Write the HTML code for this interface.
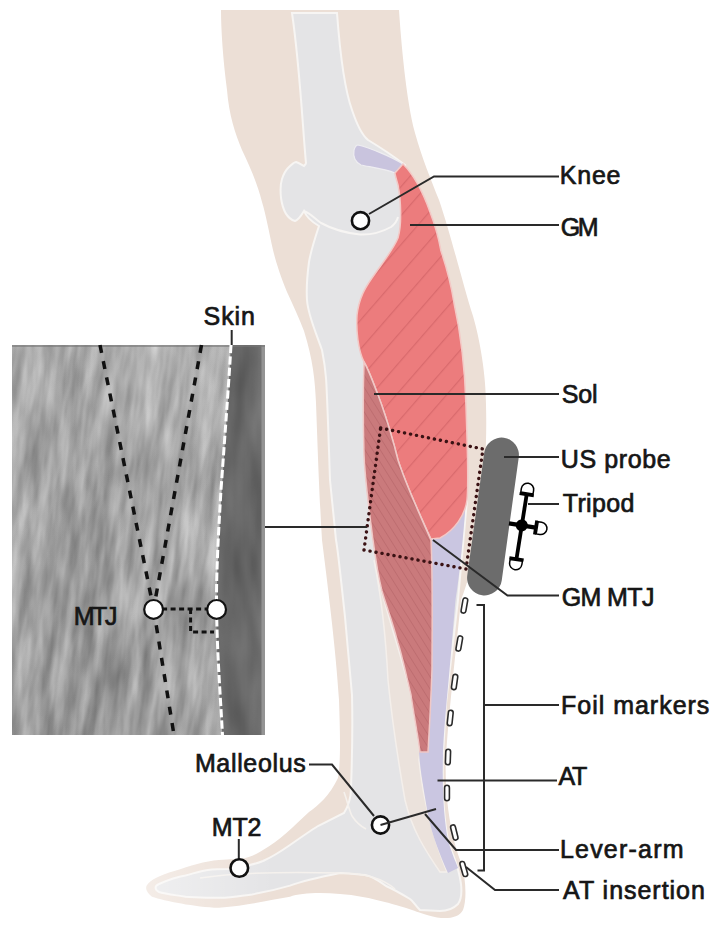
<!DOCTYPE html>
<html><head><meta charset="utf-8">
<style>
html,body{margin:0;padding:0;background:#fff;}
svg{display:block;}
text{font-family:"Liberation Sans",sans-serif;font-size:25px;fill:#161616;stroke:#161616;stroke-width:0.7px;}
</style></head>
<body>
<svg width="720" height="931" viewBox="0 0 720 931">
<defs>
  <pattern id="gmst" patternUnits="userSpaceOnUse" y="6.5" width="40" height="19" patternTransform="rotate(-49)">
    <rect width="40" height="19" fill="#ec7c7d"/>
    <line x1="0" y1="0.6" x2="40" y2="0.6" stroke="#d96a6d" stroke-width="1.1"/>
  </pattern>
  <pattern id="solst" patternUnits="userSpaceOnUse" width="40" height="6.5" patternTransform="rotate(58)">
    <rect width="40" height="6.5" fill="#ca7a7c"/>
    <line x1="0" y1="0.5" x2="40" y2="0.5" stroke="#bd6d70" stroke-width="1"/>
  </pattern>
  <filter id="usnoise2" x="0" y="0" width="100%" height="100%" color-interpolation-filters="sRGB">
    <feTurbulence type="fractalNoise" baseFrequency="0.06 0.015" numOctaves="2" seed="3"/>
    <feColorMatrix type="matrix" values="0.35 0 0 0 0.23  0.35 0 0 0 0.23  0.35 0 0 0 0.23  0 0 0 0 1"/>
  </filter>
  <clipPath id="bandclip"><path d="M231,345 L262,345 L262,735 L222.5,735 C219,690 216,640 216.6,609 C217,560 221,500 228,400 Z"/></clipPath>
  <filter id="usnoise" x="0" y="0" width="100%" height="100%" color-interpolation-filters="sRGB">
    <feTurbulence type="fractalNoise" baseFrequency="0.085 0.014" numOctaves="3" seed="11"/>
    <feColorMatrix type="matrix" values="0.42 0 0 0 0.44  0.42 0 0 0 0.44  0.42 0 0 0 0.44  0 0 0 0 1"/>
  </filter>
  <clipPath id="usclip"><rect x="12" y="345" width="253" height="390"/></clipPath>
  <linearGradient id="ushz" x1="0" y1="0" x2="1" y2="0">
    <stop offset="0" stop-color="#fff" stop-opacity="0.08"/>
    <stop offset="0.35" stop-color="#000" stop-opacity="0.03"/>
    <stop offset="0.6" stop-color="#000" stop-opacity="0.0"/>
    <stop offset="0.85" stop-color="#fff" stop-opacity="0.08"/>
    <stop offset="1" stop-color="#fff" stop-opacity="0.06"/>
  </linearGradient>
  <linearGradient id="usvt" x1="0" y1="0" x2="0" y2="1">
    <stop offset="0" stop-color="#fff" stop-opacity="0.06"/>
    <stop offset="0.6" stop-color="#000" stop-opacity="0.0"/>
    <stop offset="1" stop-color="#000" stop-opacity="0.06"/>
  </linearGradient>
</defs>

<!-- skin silhouette -->
<path fill="#ecdfd6" d="M221,10 L399,10 C401,40 406,100 415,133 C422,158 431,180 439,200 C451,235 463,285 473,316 C480,340 486,375 486,405 C487,440 485,480 480,520 C476,555 467,585 461,600 C456,650 450,700 446,755 C444,800 452,840 461,862 C466,878 467,900 463,910 C459,918 448,919 437,917.5 C425,915 418,912 412,910 C400,906 392,904 387,902.5 C370,898 355,895 340,894 C320,892 300,893 290,896.7 C270,900 250,905 219,907.8 C195,907 165,901 152,896.7 C147,893 145,889 146.7,885.6 C150,880 160,875 174.4,871 C190,866 205,861 219,860 C230,859 238,859 241,859 C252,857 258,853 263,850 C278,842 295,825 309,812 C318,806 330,795 338,778 C341,760 340,730 339,700 C336,650 327,580 322,540 C319,490 317,430 316,403 C315,380 313,360 304,331 C299,318 293,305 287,292 C280,275 276,262 273,250 C269,232 266,215 262,202 C257,182 249,165 242,150 C235,133 229,115 227,90 C223,60 221,30 221,10 Z"/>

<!-- gray interior -->
<path fill="#e4e4e6" stroke="#f7f5f3" stroke-width="2" d="M292,13 L337,13 C339,40 343,85 352,110 C357,125 362,135 368,140 C378,146 392,155 405,165 C408,180 404,190 402,200 L420,230 L450,300 L462,360 L466,420 L467,500 L458,600 L446,703 L443,755 C442,790 444,820 448,840 C452,855 458,862 461,884 C462,893 461,900 458,904 C452,910 445,911 440,911 L420,910 C415,905 413,901 410,899 C400,893 393,889 386,886 C378,880 372,876 365,875 C350,874 345,873 340,873 C320,877 300,882 290,885.6 C275,890 260,893 252,894.4 C240,896 230,898 219,897.8 C205,898 195,897 185.5,896.7 C175,895 165,894 159,892 C155,890 154,886 159,884 C168,880 176,877 185.5,875.5 C195,873 200,871 207.8,870 C215,869 225,869 230,869 C245,867 255,864 263,861 C272,857 280,852 290,845 C300,838 310,831 318,826 C330,820 338,816 344,813 C349,805 351,795 351,788 C352,760 353,735 352,695 C349,660 346,630 345,617 C341,580 338,550 336,540 C333,510 331,490 330,480 C328,420 327,390 326,378 C325,365 323,355 322,350 C315,330 308,315 307,300 C306,285 307,277 309,262 C311,250 315,238 319,226 C312,222 306,216 304,211 C301,216 298,220 295,221 C288,219 283,212 281,198 C280,188 281,182 282,179 C284,173 286,170 288,168 C291,165 294,162 296,162 C299,163 302,165 304,166 C305,165 306,164 306,163 C303,133 300,67 292,13 Z"/>
<!-- condyle line -->
<path fill="none" stroke="#f7f5f3" stroke-width="2" d="M304,211 C310,213 315,219 321,223 C332,229 346,233 360,234.5 C372,235 382,232 391,227 C395,224 397,221 398,217"/>
<!-- ankle white lines -->
<path fill="none" stroke="#f5f1ed" stroke-width="1.6" d="M344,792 C347,800 349,810 352,816 C356,822 360,826 366,829"/>
<path fill="none" stroke="#f5f1ed" stroke-width="1.6" d="M200,878 C240,872 300,872 340,873 C360,873 380,876 395,889"/>

<!-- toe fade -->
<linearGradient id="toefade" x1="140" y1="0" x2="275" y2="0" gradientUnits="userSpaceOnUse">
  <stop offset="0" stop-color="#fff" stop-opacity="0.45"/>
  <stop offset="1" stop-color="#fff" stop-opacity="0"/>
</linearGradient>
<rect x="140" y="845" width="135" height="70" fill="url(#toefade)"/>

<!-- beige deep band -->
<path fill="#ebe2dc" stroke="#f4efeb" stroke-width="1.5" d="M374,560 C382,600 400,650 411,695 L420,752 L419,760 C423,800 432,835 447,872 L440,872 C425,850 412,830 405,800 C398,760 392,720 388,680 C386,640 382,600 374,560 Z"/>

<!-- purple knee tendon -->
<path fill="#c9c4de" stroke="#eeedf1" stroke-width="1.2" d="M358,145 C370,148 390,156 403,164 L395,173 C385,169 370,167 361,165 C355,162 353,156 354,150 C355,147 356,145 358,145 Z"/>
<!-- purple AT -->
<path fill="#cac6e1" d="M440,525 L466,500 C463,540 459,580 455.5,600 C452,640 448,690 446.5,703 C444,730 443,750 443,755 C442,790 444,820 448,840 C452,855 456,862 458,868 L448,873 C440,855 432,835 428,815 C424,790 420,770 419,752 L420,600 L432,540 Z"/>

<!-- GM muscle -->
<path fill="url(#gmst)" stroke="#f3c9c6" stroke-width="1.5" d="M403,164 C414,175 424,195 430,212 C435,225 439,240 441,251 C448,272 452,290 454,303 C460,330 465,370 466,406 C467,440 469,480 467,500 C465,515 455,530 440,538 L431,539 C420,515 406,485 398,460 C393,440 387,420 381,403 C376,390 369,370 364,362 C358,350 356,330 357,315 C359,298 365,288 372,278 C383,262 393,250 398,238 C402,225 401,200 398,185 C396,178 395,175 395,173 Z"/>
<!-- Sol muscle -->
<path fill="url(#solst)" stroke="#f0c8c6" stroke-width="1.5" d="M364,362 C369,370 376,390 381,403 C387,420 393,440 398,460 C406,485 420,515 431,540 C433,580 432,640 432,669 C431,700 429,735 428,752 L420,752 C417,730 413,710 411,695 C405,670 402,655 398,643 C392,620 386,605 382,591 C378,575 375,555 373,540 C369,510 365,480 364,455 C363,420 363,390 364,362 Z"/>

<!-- dotted rectangle -->
<path fill="none" stroke="#3a1214" stroke-width="3.4" stroke-linecap="round" stroke-linejoin="round" stroke-dasharray="0.1 6" d="M380.6,428 L483,449 L466,569 L364,550 Z"/>

<!-- US probe -->
<line x1="501.5" y1="455" x2="484.5" y2="578" stroke="#6c6c6c" stroke-width="34.8" stroke-linecap="round"/>

<!-- tripod -->
<g transform="rotate(9 521.8 525.4)">
  <g stroke="#000" fill="none">
    <line x1="521.8" y1="493.9" x2="521.8" y2="559.4" stroke-width="3.8"/>
    <line x1="508.8" y1="525.4" x2="535.8" y2="525.4" stroke-width="4.2"/>
    <line x1="514.6" y1="494.2" x2="529" y2="494.2" stroke-width="3"/>
    <line x1="535.8" y1="518.3" x2="535.8" y2="532.5" stroke-width="3"/>
    <line x1="514.6" y1="559.2" x2="529" y2="559.2" stroke-width="3"/>
  </g>
  <circle cx="521.8" cy="525.4" r="6" fill="#000"/>
  <g stroke="#000" stroke-width="1.5" fill="#fff">
    <path d="M515.6,492.6 L515.6,489 A6.2,6.2 0 0 1 528,489 L528,492.6 Z"/>
    <path d="M537.4,519.2 L541,519.2 A6.2,6.2 0 0 1 541,531.6 L537.4,531.6 Z"/>
    <path d="M515.6,560.8 L515.6,564 A6.2,6.2 0 0 0 528,564 L528,560.8 Z"/>
  </g>
</g>

<!-- foil markers -->
<g fill="#fff" stroke="#2b2b2b" stroke-width="1.6">
  <rect x="-2.4" y="-7.7" width="4.8" height="15.4" rx="2.4" transform="translate(464.4,605.5) rotate(10)"/>
  <rect x="-2.4" y="-7.7" width="4.8" height="15.4" rx="2.4" transform="translate(459.3,643.5) rotate(10)"/>
  <rect x="-2.4" y="-7.7" width="4.8" height="15.4" rx="2.4" transform="translate(454.6,682) rotate(8)"/>
  <rect x="-2.4" y="-7.7" width="4.8" height="15.4" rx="2.4" transform="translate(450.2,718) rotate(6)"/>
  <rect x="-2.4" y="-7.7" width="4.8" height="15.4" rx="2.4" transform="translate(448,757) rotate(2)"/>
  <rect x="-2.4" y="-7.7" width="4.8" height="15.4" rx="2.4" transform="translate(447,793) rotate(0)"/>
  <rect x="-2.4" y="-7.7" width="4.8" height="15.4" rx="2.4" transform="translate(454.3,832.5) rotate(-14)"/>
  <rect x="-2.4" y="-7.7" width="4.8" height="15.4" rx="2.4" transform="translate(463.8,869) rotate(-16)"/>
</g>

<!-- leader lines -->
<g stroke="#2a2a2a" stroke-width="2" fill="none">
  <polyline points="369,214 434,176.5 559,176.5"/>
  <line x1="410" y1="225" x2="559" y2="225"/>
  <line x1="374" y1="394" x2="559" y2="394"/>
  <line x1="504" y1="457" x2="559" y2="457"/>
  <line x1="528" y1="504" x2="559" y2="504"/>
  <polyline points="433,540 507.5,595.5 559,595.5"/>
  <polyline points="476.5,605 484,605 484,870.5 477.5,870.5"/>
  <line x1="484" y1="705" x2="559" y2="705"/>
  <line x1="437.5" y1="780.5" x2="557" y2="780.5"/>
  <polyline points="425,814 456,850 559,850"/>
  <polyline points="466,867 495,890 559,890"/>
  <polyline points="309,764.5 332,764.5 374,816"/>
  <line x1="238.8" y1="839" x2="238.8" y2="859"/>
  <line x1="265" y1="527" x2="367" y2="527"/>
  <line x1="231.7" y1="330" x2="231.7" y2="345"/>
</g>

<!-- circles -->
<g fill="#fff" stroke="#111" stroke-width="2.6">
  <circle cx="360.5" cy="220.7" r="8.6"/>
  <circle cx="380.5" cy="825" r="8.6"/>
  <circle cx="239.3" cy="868" r="8.8"/>
</g>
<line x1="380.5" y1="825" x2="436" y2="809" stroke="#2a2a2a" stroke-width="2"/>

<!-- ultrasound inset -->
<g clip-path="url(#usclip)">
  <g transform="rotate(6 140 540)">
    <rect x="-60" y="300" width="400" height="480" filter="url(#usnoise)"/>
  </g>
  <rect x="12" y="345" width="253" height="390" fill="url(#ushz)"/>
  <rect x="12" y="345" width="253" height="390" fill="url(#usvt)"/>
  <radialGradient id="usr1" cx="150" cy="400" r="90" gradientUnits="userSpaceOnUse" gradientTransform="translate(150 400) scale(1 1.6) translate(-150 -400)">
    <stop offset="0" stop-color="#fff" stop-opacity="0.12"/>
    <stop offset="1" stop-color="#fff" stop-opacity="0"/>
  </radialGradient>
  <radialGradient id="usr2" cx="80" cy="600" r="80" gradientUnits="userSpaceOnUse" gradientTransform="translate(80 600) scale(1 1.8) translate(-80 -600)">
    <stop offset="0" stop-color="#000" stop-opacity="0.06"/>
    <stop offset="1" stop-color="#000" stop-opacity="0"/>
  </radialGradient>
  <rect x="12" y="345" width="253" height="390" fill="url(#usr1)"/>
  <rect x="12" y="345" width="253" height="390" fill="url(#usr2)"/>
  <linearGradient id="uslt" x1="0" y1="0" x2="1" y2="0">
    <stop offset="0" stop-color="#fff" stop-opacity="0"/>
    <stop offset="1" stop-color="#fff" stop-opacity="0.13"/>
  </linearGradient>
  <path fill="url(#uslt)" d="M201,345 L231,345 C229,380 226,420 221,490 C218,540 216,580 216.6,609 C217,650 220,690 222.5,735 L192.5,735 C190,690 187,650 186.6,609 C186,580 188,540 191,490 C196,420 199,380 201,345 Z"/>
  <linearGradient id="usdk" x1="216" y1="0" x2="265" y2="0" gradientUnits="userSpaceOnUse">
    <stop offset="0" stop-color="#6c6c6c"/>
    <stop offset="0.45" stop-color="#646464"/>
    <stop offset="0.85" stop-color="#6e6e6e"/>
    <stop offset="1" stop-color="#777"/>
  </linearGradient>
  <path fill="url(#usdk)" d="M231,345 L265,345 L265,735 L222.5,735 C219,690 216,640 216.6,609 C217,560 221,500 228,400 Z"/>
  <g clip-path="url(#bandclip)" opacity="0.45"><rect x="200" y="340" width="70" height="400" filter="url(#usnoise2)"/></g>
  <rect x="261.5" y="345" width="3.5" height="390" fill="#949494"/>
  <rect x="12" y="345" width="253" height="2" fill="#777" opacity="0.6"/>
</g>
<g>
  <path fill="none" stroke="#fff" stroke-width="3" stroke-dasharray="8.3 3.1" d="M231,345 C229,380 226,420 221,490 C218,540 216,580 216.6,609 C217,650 220,690 222.5,735"/>
  <g stroke="#111" stroke-width="3.5" stroke-dasharray="8 8.5" fill="none">
    <line x1="100" y1="345" x2="153.6" y2="609"/>
    <line x1="201.5" y1="345" x2="153.6" y2="609"/>
    <line x1="153.6" y1="609" x2="174" y2="735"/>
  </g>
  <g stroke="#111" stroke-width="3" stroke-dasharray="5 3.5" fill="none">
    <polyline points="153.6,609 216.6,609"/>
    <polyline points="190.6,609 190.6,632 214,632"/>
  </g>
  <g fill="#fff" stroke="#111" stroke-width="2.2">
    <circle cx="153.6" cy="609.4" r="9.4"/>
    <circle cx="216.6" cy="609.4" r="9.4"/>
  </g>
</g>

<!-- labels -->
<text x="559.7" y="184.0" textLength="60.8" lengthAdjust="spacing">Knee</text>
<text x="560.7" y="235.6" textLength="37.8" lengthAdjust="spacing">GM</text>
<text x="561.7" y="403.4" textLength="35.8" lengthAdjust="spacing">Sol</text>
<text x="560.7" y="467.5" textLength="110.0" lengthAdjust="spacing">US probe</text>
<text x="562.7" y="512.1" textLength="71.8" lengthAdjust="spacing">Tripod</text>
<text x="561.7" y="605.6" textLength="92.8" lengthAdjust="spacing">GM MTJ</text>
<text x="561.1" y="714.0" textLength="148.2" lengthAdjust="spacing">Foil markers</text>
<text x="558.4" y="785.0" textLength="28.9" lengthAdjust="spacing">AT</text>
<text x="559.9" y="857.8" textLength="123.7" lengthAdjust="spacing">Lever-arm</text>
<text x="563.1" y="898.6" textLength="141.8" lengthAdjust="spacing">AT insertion</text>
<text x="203.6" y="325.0" textLength="51.2" lengthAdjust="spacing">Skin</text>
<text x="73.7" y="624.6" textLength="43.8" lengthAdjust="spacing">MTJ</text>
<text x="194.9" y="771.6" textLength="110.8" lengthAdjust="spacing">Malleolus</text>
<text x="211.7" y="835.6" textLength="49.8" lengthAdjust="spacing">MT2</text>
</svg>
</body></html>
